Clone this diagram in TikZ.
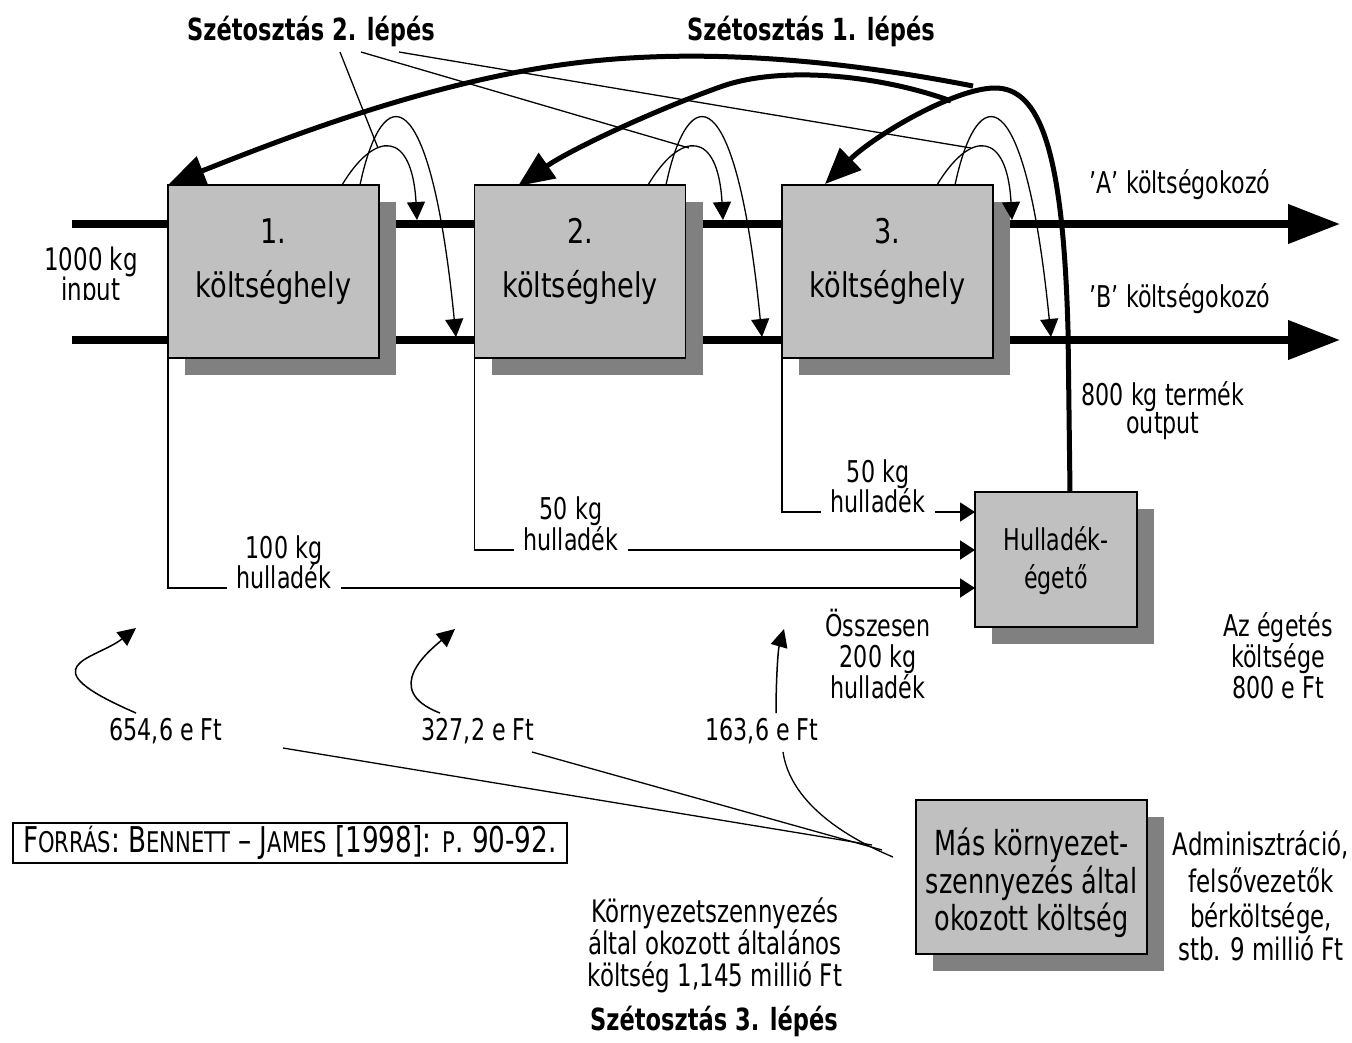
\documentclass[tikz,border=0pt]{standalone}
\usepackage{fontspec}
\setmainfont{DejaVu Sans}[FakeStretch=0.74]
\newfontfamily\boxfont{DejaVu Sans}[FakeStretch=0.8]
\usetikzlibrary{arrows.meta,calc,shadows,backgrounds}
\definecolor{boxgray}{RGB}{192,192,192}
\definecolor{shadowgray}{RGB}{128,128,128}
\newcommand\fakesc[1]{{\fontsize{28.5}{28.5}\selectfont #1}}

\begin{document}
\begin{tikzpicture}[x=1pt,y=-1pt,
  every node/.style={inner sep=0pt,outer sep=0pt},
  cbox/.style={draw=black,line width=1.8pt,fill=boxgray,
    drop shadow={shadow xshift=17pt,shadow yshift=-17pt,fill=shadowgray,opacity=1}},
  boxtext/.style={anchor=base,font=\boxfont\fontsize{34}{34}\selectfont},
  hutext/.style={anchor=base,font=\fontsize{30}{30}\selectfont},
  mastext/.style={anchor=base,font=\fontsize{34.5}{34.5}\selectfont},
  lbl/.style={anchor=base,font=\fontsize{30}{30}\selectfont},
  biglbl/.style={anchor=base,font=\fontsize{31}{31}\selectfont},
  gaplbl/.style={lbl,fill=white,inner xsep=10pt,inner ysep=2pt,
    text height=5pt,text depth=2pt},
  hd/.style={anchor=base,font=\fontsize{30.5}{30.5}\selectfont\bfseries},
  flow/.style={line width=7.5pt,-{Triangle[length=52pt,width=38pt]}},
  heavy/.style={line width=5pt,-{Triangle[length=36pt,width=30pt]}},
  loopar/.style={line width=1.3pt,-{Triangle[length=18pt,width=18pt]}},
  waste/.style={line width=1.8pt,-{Triangle[length=15pt,width=19pt]}},
  share/.style={line width=1.5pt,-{Triangle[length=18pt,width=17pt]}},
  thin/.style={line width=1.3pt},
]
\useasboundingbox (0,0) rectangle (1352,1042);

% cost centres, incinerator and the overhead box
\node[cbox,minimum width=211pt,minimum height=173pt] (b1) at (273.5,271.5) {};
\node[cbox,minimum width=211pt,minimum height=173pt] (b2) at (580,271.5) {};
\node[cbox,minimum width=211pt,minimum height=173pt] (b3) at (887.5,271.5) {};
\node[cbox,minimum width=162pt,minimum height=135pt] (hu) at (1056,559.5) {};
\node[cbox,minimum width=231pt,minimum height=154pt] (ma) at (1031.5,877) {};

\node[boxtext] (b1n) at (273.5,243) {1.};
\node[boxtext] (b1w) at (273.5,297) {költséghely};
\node[boxtext] (b2n) at (580,243) {2.};
\node[boxtext] (b2w) at (580,297) {költséghely};
\node[boxtext] (b3n) at (887.5,243) {3.};
\node[boxtext] (b3w) at (887.5,297) {költséghely};

\node[hutext] (hu1) at (1056,550) {Hulladék-};
\node[hutext] (hu2) at (1056,588) {égető};

\node[mastext] (ma1) at (1031.5,855) {Más környezet-};
\node[mastext] (ma2) at (1031.5,893) {szennyezés által};
\node[mastext] (ma3) at (1031.5,930) {okozott költség};

% flow lines and waste lines behind the boxes
\begin{scope}[on background layer]
  \fill[white] (0,0) rectangle (1352,1042);
  \coordinate (inA) at (72,224);
  \coordinate (outA) at (1340,224);
  \coordinate (inB) at (72,340);
  \coordinate (outB) at (1340,340);
  \draw[flow] (inA) -- (outA);
  \draw[flow] (inB) -- (outB);
  \draw[waste] (b1.south west) |- ($(hu.west)+(0,28.5)$);
  \draw[waste] (b2.south west) |- ($(hu.west)+(0,-9.5)$);
  \draw[waste] (b3.south west) |- ($(hu.west)+(0,-47.5)$);
\end{scope}

% input label, cut off at the bottom
\node[biglbl] (inp1) at (91,270) {1000 kg};
\begin{scope}
  \clip (0,240) rectangle (200,299);
  \node[biglbl] (inp2) at (91,300) {input};
\end{scope}

\node[lbl] (ka) at (1180,193) {’A’ költségokozó};
\node[lbl] (kb) at (1180,307) {’B’ költségokozó};
\node[lbl] (out1) at (1163,405) {800 kg termék};
\node[lbl] (out2) at (1163,433) {output};

% waste quantities
\node[lbl] (w1a) at (284,558) {100 kg};
\node[gaplbl] (w1b) at (284,588) {hulladék};
\node[lbl] (w2a) at (571,519) {50 kg};
\node[gaplbl] (w2b) at (571,550) {hulladék};
\node[lbl] (w3a) at (878,482) {50 kg};
\node[gaplbl] (w3b) at (878,512) {hulladék};

\node[lbl] (os1) at (878,636) {Összesen};
\node[lbl] (os2) at (878,667) {200 kg};
\node[lbl] (os3) at (878,698) {hulladék};

\node[lbl] (eg1) at (1278,636) {Az égetés};
\node[lbl] (eg2) at (1278,667) {költsége};
\node[lbl] (eg3) at (1278,698) {800 e Ft};

% overhead shares
\node[lbl] (c1l) at (166,740) {654,6 e Ft};
\node[lbl] (c2l) at (478,740) {327,2 e Ft};
\node[lbl] (c3l) at (762,740) {163,6 e Ft};

\node[biglbl] (ad1) at (1261,855) {Adminisztráció,};
\node[biglbl] (ad2) at (1261,892) {felsővezetők};
\node[biglbl] (ad3) at (1261,927) {bérköltsége,};
\node[biglbl] (ad4) at (1261,960) {stb. 9 millió Ft};

\node[biglbl] (kv1) at (715,922) {Környezetszennyezés};
\node[biglbl] (kv2) at (715,954) {által okozott általános};
\node[biglbl] (kv3) at (715,986) {költség 1,145 millió Ft};

\node[hd] (h2) at (311,40) {Szétosztás 2. lépés};
\node[hd] (h1) at (811,40) {Szétosztás 1. lépés};
\node[hd] (h3) at (714,1030) {Szétosztás 3. lépés};

\node[draw=black,line width=1.5pt,minimum width=554pt,minimum height=40pt,
  font=\fontsize{35.5}{35.5}\selectfont] (src) at (290,843)
  {F\fakesc{ORRÁS}: B\fakesc{ENNETT} – J\fakesc{AMES} [1998]: \fakesc{P}. 90-92.};

% loops: each cost centre passes its cost on to both lines
\foreach \L in {342,648,937}{
  \draw[loopar] (\L,185) .. controls (\L+33,130) and (\L+70,130) .. (\L+75,220);
  \draw[loopar] (\L+18,185) .. controls (\L+40,80) and (\L+88,75) .. (\L+114,337);
}

% step 2 pointers
\coordinate (s2a) at (340,52);
\coordinate (s2b) at (361,52);
\coordinate (s2c) at (399,52);
\coordinate (e2a) at (378,148);
\coordinate (e2b) at (689,148);
\coordinate (e2c) at (971,148);
\draw[thin] (s2a) -- (e2a);
\draw[thin] (s2b) -- (e2b);
\draw[thin] (s2c) -- (e2c);

% step 1: incineration cost returned to the cost centres
\coordinate (t1s) at (973,86);
\coordinate (t2s) at (951,101);
\coordinate (t1e) at (169,184);
\coordinate (t2e) at (518,186);
\coordinate (t3e) at (825,184);
\draw[heavy] (t1s) .. controls (850,62) and (700,45) .. (560,65)
  .. controls (420,85) and (280,140) .. (t1e);
\draw[heavy] (t2s) .. controls (880,75) and (780,65) .. (720,87)
  .. controls (650,112) and (570,150) .. (t2e);
\draw[heavy] ($(hu.north)+(14,0)$) -- (1068,330)
  .. controls (1063,150) and (1040,88) .. (995,88)
  .. controls (955,88) and (875,135) .. (t3e);

% step 3: overhead shares
\coordinate (c1s) at (136,713);
\coordinate (c1t) at (136,628);
\coordinate (c2s) at (440,713);
\coordinate (c2t) at (455,629);
\coordinate (c3s) at (776,713);
\coordinate (c3t) at (784,629);
\draw[share] (c1s) .. controls (25,665) and (95,660) .. (c1t);
\draw[share] (c2s) .. controls (380,690) and (430,650) .. (c2t);
\draw[share] (c3s) .. controls (776,680) and (778,650) .. (c3t);

\coordinate (f1s) at (283,748);
\coordinate (f2s) at (532,752);
\coordinate (f3s) at (783,752);
\coordinate (f1e) at (872,845);
\coordinate (f2e) at (882,850);
\coordinate (f3e) at (893,857);
\draw[thin] (f1s) -- (f1e);
\draw[thin] (f2s) -- (f2e);
\draw[thin] (f3s) .. controls (790,800) and (840,835) .. (f3e);
\end{tikzpicture}
\end{document}
